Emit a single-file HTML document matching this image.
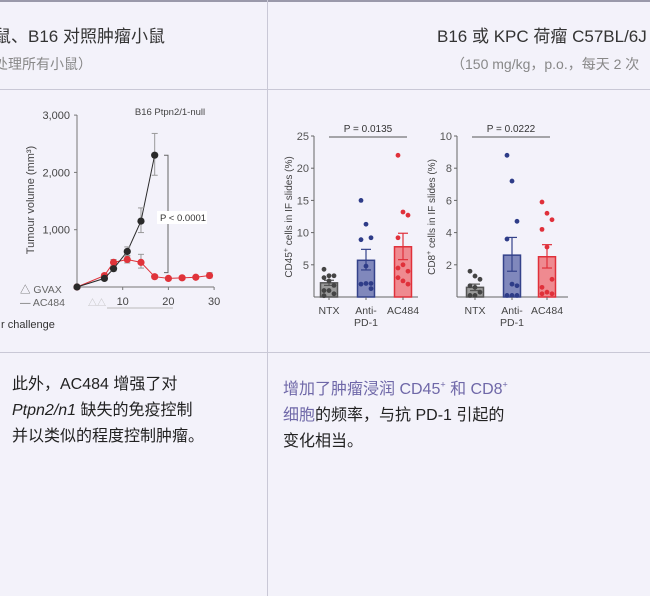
<!DOCTYPE html>
<html><head><meta charset="utf-8">
<style>
html,body{margin:0;width:650px;height:596px;overflow:hidden}
body{background:#f3f2fa;font-family:"Liberation Sans","Noto Sans CJK SC",sans-serif;position:relative}
.clip{position:absolute;left:0;top:0;width:650px;height:596px;overflow:hidden}
.a{position:absolute;white-space:nowrap}
.ln{position:absolute;background:#c9c8d6}
svg text{font-family:"Liberation Sans","Noto Sans CJK SC",sans-serif}
</style></head><body>
<div class="clip">
<div class="ln" style="left:0;top:0;width:650px;height:2px;background:#9a99aa"></div>
<div class="ln" style="left:0;top:89px;width:650px;height:1px"></div>
<div class="ln" style="left:0;top:352px;width:650px;height:1px"></div>
<div class="ln" style="left:267px;top:0;width:1px;height:596px"></div>

<div class="a" style="left:-6px;top:22px;font-size:17px;color:#333">鼠、B16 对照肿瘤小鼠</div>
<div class="a" style="left:-6px;top:54px;font-size:14px;color:#888">处理所有小鼠）</div>
<div class="a" style="left:437px;top:22px;width:213px;overflow:hidden;font-size:17px;color:#333">B16 或 KPC 荷瘤 C57BL/6J</div>
<div class="a" style="left:451px;top:54px;width:199px;overflow:hidden;font-size:14px;color:#888">（150 mg/kg，p.o.，每天 2 次</div>

<div class="a" style="left:12px;top:372px;font-size:16px;line-height:26px;color:#222">此外，AC484 增强了对<br><i>Ptpn2/n1</i> 缺失的免疫控制<br>并以类似的程度控制肿瘤。</div>
<div class="a" style="left:283px;top:372px;font-size:16px;line-height:26px;color:#222"><span style="color:#6f68a8">增加了肿瘤浸润 CD45<sup style="font-size:9px">+</sup> 和 CD8<sup style="font-size:9px">+</sup><br>细胞</span>的频率，与抗 PD-1 引起的<br>变化相当。</div>

<svg id="c" width="650" height="596" style="position:absolute;left:0;top:0"></svg>
</div>
<script>
const tvDaysBlack=[0,6,8,11,14,17];
const tvBlack=[0,150,320,620,1150,2300];
const tvBlackLo=[0,120,280,550,950,1950];
const tvBlackHi=[0,180,360,700,1380,2680];
const tvDaysRed=[0,6,8,11,14,17,20,23,26,29];
const tvRed=[0,200,430,480,430,180,150,160,170,200];
const tvRedLo=[0,170,380,420,330,150,130,140,150,160];
const tvRedHi=[0,230,480,540,570,210,170,180,190,250];
const tvYTicks=[1000,2000,3000];
const tvYTickLabels=["1,000","2,000","3,000"];
const tvXTicks=[10,20,30];
const groups=["NTX","Anti-PD-1","AC484"];
const cd45Mean=[2.2,5.7,7.8];
const cd45Lo=[1.8,4.2,5.8];
const cd45Hi=[2.6,7.4,9.9];
const cd45Dots=[[4.3,3.3,3.3,3.0,2.5,1.8,1.0,1.0,0.5,0.2],[15,11.3,9.2,8.9,4.8,2.1,2.0,2.1,1.3],[22,13.2,12.7,9.2,5.0,4.0,4.5,2.5,2.0,3.0]];
const cd8Mean=[0.6,2.6,2.5];
const cd8Lo=[0.4,1.6,1.8];
const cd8Hi=[0.8,3.7,3.25];
const cd8Dots=[[1.6,1.3,1.1,0.7,0.6,0.3,0.1,0.1],[8.8,7.2,4.7,3.6,0.8,0.7,0.1,0.1,0.1],[5.9,5.2,4.8,4.2,3.1,1.1,0.6,0.3,0.2,0.2]];
const cd45Ticks=[5,10,15,20,25];
const cd8Ticks=[2,4,6,8,10];

const svg=document.getElementById('c');
const NS='http://www.w3.org/2000/svg';
function el(t,a,txt){const e=document.createElementNS(NS,t);for(const k in a)e.setAttribute(k,a[k]);if(txt!==undefined)e.textContent=txt;svg.appendChild(e);return e;}

const tx=v=>77+v*4.57, ty=v=>287-v*0.0573;
let e=el('line',{x1:77,y1:115,x2:77,y2:287,stroke:'#777','stroke-width':1});

e=el('line',{x1:77,y1:287,x2:214,y2:287,stroke:'#777','stroke-width':1});

tvYTicks.forEach((v,i)=>{el('line',{x1:74,y1:ty(v),x2:77,y2:ty(v),stroke:'#777'});
 e=el('text',{x:70,y:ty(v)+4,'font-size':11,fill:'#444','text-anchor':'end'},tvYTickLabels[i]);
 });
tvXTicks.forEach(v=>{el('line',{x1:tx(v),y1:287,x2:tx(v),y2:290,stroke:'#777'});
 e=el('text',{x:tx(v),y:305,'font-size':11,fill:'#444','text-anchor':'middle'},v);
 });
e=el('text',{x:170,y:115,'font-size':9.5,fill:'#444','text-anchor':'middle'},'B16 Ptpn2/1-null');

e=el('text',{x:0,y:0,'font-size':11,fill:'#444','text-anchor':'middle',transform:'translate(34,200) rotate(-90)'},'Tumour volume (mm³)');

function series(days,vals,lo,hi,col,name){
 el('polyline',{points:days.map((d,i)=>tx(d)+','+ty(vals[i])).join(' '),fill:'none',stroke:col,'stroke-width':1});
 days.forEach((d,i)=>{el('line',{x1:tx(d),y1:ty(lo[i]),x2:tx(d),y2:ty(hi[i]),stroke:'#999'});
  el('line',{x1:tx(d)-3,y1:ty(lo[i]),x2:tx(d)+3,y2:ty(lo[i]),stroke:'#999'});
  el('line',{x1:tx(d)-3,y1:ty(hi[i]),x2:tx(d)+3,y2:ty(hi[i]),stroke:'#999'});
  const c=el('circle',{cx:tx(d),cy:ty(vals[i]),r:3.6,fill:col});
  });
}
series(tvDaysRed,tvRed,tvRedLo,tvRedHi,'#e0333a','ac484');
series(tvDaysBlack,tvBlack,tvBlackLo,tvBlackHi,'#2a2a2a','gvax');
el('path',{d:`M164 ${ty(2300)} H168 V${ty(250)} H164`,fill:'none',stroke:'#666'});
el('rect',{x:157,y:211,width:50,height:13,fill:'#fff'});
e=el('text',{x:160,y:221,'font-size':9.5,fill:'#333'},'P < 0.0001');

e=el('text',{x:20,y:293,'font-size':10.5,fill:'#666'},'△ GVAX');

e=el('text',{x:20,y:306,'font-size':10.5,fill:'#666'},'— AC484');

el('text',{x:88,y:306,'font-size':9,fill:'#bbb'},'△△');
el('line',{x1:107,y1:308,x2:173,y2:308,stroke:'#bbb'});
e=el('text',{x:-2,y:328,'font-size':11,fill:'#333'},'ır challenge');


const fills=['#9a9a9a','#8088bc','#ef8a90'],strokes=['#555','#34428a','#e0303a'],dotc=['#444','#2e3c88','#e0303a'];
function barChart(ax,ax2,centers,max,ticks,mean,lo,hi,dots,ytitle,pLabel,p1,p2,pfx){
 const y=v=>297-v*(161/max);
 el('line',{x1:ax,y1:136,x2:ax,y2:297,stroke:'#666'});
 el('line',{x1:ax,y1:297,x2:ax2,y2:297,stroke:'#666'});
 ticks.forEach(t=>{el('line',{x1:ax-3,y1:y(t),x2:ax,y2:y(t),stroke:'#666'});
  const tt=el('text',{x:ax-5,y:y(t)+4,'font-size':11,fill:'#555','text-anchor':'end'},t);
  });
 const yt=el('text',{x:0,y:0,'font-size':10,fill:'#444','text-anchor':'middle',transform:`translate(${ax-22},217) rotate(-90)`});
 yt.innerHTML=ytitle;
 
 groups.forEach((g,i)=>{const cx=centers[i];
  const b=el('rect',{x:cx-8.5,y:y(mean[i]),width:17,height:297-y(mean[i]),fill:fills[i],stroke:strokes[i],'stroke-width':1.5});
  
  el('line',{x1:cx,y1:y(lo[i]),x2:cx,y2:y(hi[i]),stroke:strokes[i],'stroke-width':1.2});
  el('line',{x1:cx-5,y1:y(lo[i]),x2:cx+5,y2:y(lo[i]),stroke:strokes[i],'stroke-width':1.2});
  el('line',{x1:cx-5,y1:y(hi[i]),x2:cx+5,y2:y(hi[i]),stroke:strokes[i],'stroke-width':1.2});
  dots[i].forEach((v,j)=>{const d=el('circle',{cx:cx+((j%3)-1)*5,cy:y(v),r:2.4,fill:dotc[i]});
   });
  el('line',{x1:cx,y1:297,x2:cx,y2:300,stroke:'#666'});
  const parts=g==='Anti-PD-1'?['Anti-','PD-1']:[g];
  parts.forEach((p,k)=>{const l=el('text',{x:cx,y:314+k*12,'font-size':10.5,fill:'#444','text-anchor':'middle'},p);
   });
 });
 el('line',{x1:p1,y1:137,x2:p2,y2:137,stroke:'#555'});
 const pt=el('text',{x:(p1+p2)/2,y:132,'font-size':10,fill:'#333','text-anchor':'middle'},pLabel);
 
}
barChart(314,418,[329,366,403],25,cd45Ticks,cd45Mean,cd45Lo,cd45Hi,cd45Dots,'CD45<tspan dy="-4" font-size="7">+</tspan><tspan dy="4"> cells in IF slides (%)</tspan>','P = 0.0135',329,407,'cd45');
barChart(457,568,[475,512,547],10,cd8Ticks,cd8Mean,cd8Lo,cd8Hi,cd8Dots,'CD8<tspan dy="-4" font-size="7">+</tspan><tspan dy="4"> cells in IF slides (%)</tspan>','P = 0.0222',472,550,'cd8');
</script>
</body></html>
